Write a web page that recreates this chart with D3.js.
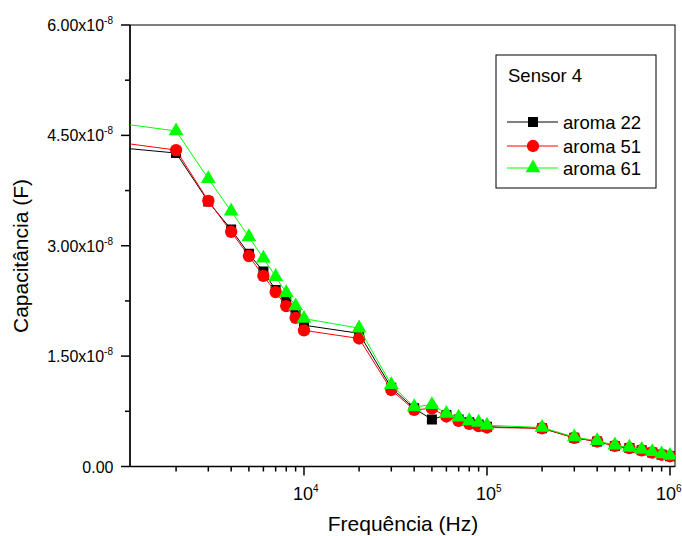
<!DOCTYPE html>
<html>
<head>
<meta charset="utf-8">
<script src="https://cdn.jsdelivr.net/npm/d3@7"></script>
<style>
  body { margin: 0; background: #fff; }
  text { font-family: "Liberation Sans", Arial, sans-serif; fill: #000; }
</style>
</head>
<body>
<div id="chart"></div>
<script>
// frequências (Hz)
let freq = [1e3, 2e3, 3e3, 4e3, 5e3, 6e3, 7e3, 8e3, 9e3, 1e4,
            2e4, 3e4, 4e4, 5e4, 6e4, 7e4, 8e4, 9e4, 1e5,
            2e5, 3e5, 4e5, 5e5, 6e5, 7e5, 8e5, 9e5, 1e6];
// capacitância em unidades de 1e-8 F
let aroma22 = [4.33, 4.26, 3.60, 3.22, 2.89, 2.65, 2.40, 2.25, 2.07, 1.92,
               1.81, 1.07, 0.79, 0.64, 0.70, 0.64, 0.60, 0.57, 0.54,
               0.52, 0.39, 0.34, 0.28, 0.25, 0.22, 0.19, 0.16, 0.14];
let aroma51 = [4.40, 4.30, 3.61, 3.19, 2.86, 2.59, 2.37, 2.18, 2.02, 1.85,
               1.74, 1.04, 0.77, 0.79, 0.68, 0.62, 0.58, 0.55, 0.53,
               0.52, 0.39, 0.34, 0.28, 0.25, 0.22, 0.19, 0.16, 0.14];
let aroma61 = [4.66, 4.56, 3.91, 3.47, 3.12, 2.83, 2.58, 2.36, 2.18, 2.01,
               1.88, 1.11, 0.81, 0.84, 0.72, 0.67, 0.62, 0.60, 0.56,
               0.53, 0.40, 0.35, 0.29, 0.26, 0.23, 0.20, 0.17, 0.15];
let yTicks = [0, 1.5, 3.0, 4.5, 6.0];
let yTickLabels = ["0.00", "1.50x10", "3.00x10", "4.50x10", "6.00x10"];
let xTicks = [1e4, 1e5, 1e6];
let xTickExp = ["4", "5", "6"];

let series = [
  {name: "aroma 22", values: aroma22, color: "#000000", symbol: d3.symbolSquare, size: 100},
  {name: "aroma 51", values: aroma51, color: "#ff0000", symbol: d3.symbolCircle, size: 120},
  {name: "aroma 61", values: aroma61, color: "#00ff00", symbol: d3.symbolTriangle, size: 95}
];

let width = 682, height = 536;
let mLeft = 130, mRight = 675, mTop = 25, mBottom = 466.5;

let X = d3.scaleLog().domain([1120, 1.065e6]).range([mLeft, mRight]);
let Y = d3.scaleLinear().domain([0, 6]).range([mBottom, mTop]);

let svg = d3.select("#chart").append("svg")
  .attr("width", width)
  .attr("height", height);

svg.append("clipPath").attr("id", "clip")
  .append("rect")
  .attr("x", mLeft).attr("y", mTop)
  .attr("width", mRight - mLeft).attr("height", mBottom - mTop);

// moldura
svg.append("rect")
  .attr("x", mLeft).attr("y", mTop)
  .attr("width", mRight - mLeft).attr("height", mBottom - mTop)
  .attr("fill", "none").attr("stroke", "#000").attr("stroke-width", 1);

// eixo Y
let yMinor = d3.range(0.75, 6, 1.5);
svg.selectAll(".ymaj").data(yTicks).join("line")
  .attr("x1", mLeft - 9).attr("x2", mLeft)
  .attr("y1", d => Y(d)).attr("y2", d => Y(d))
  .attr("stroke", "#000").attr("stroke-width", 1.5);
svg.selectAll(".ymin").data(yMinor).join("line")
  .attr("x1", mLeft - 5).attr("x2", mLeft)
  .attr("y1", d => Y(d)).attr("y2", d => Y(d))
  .attr("stroke", "#000").attr("stroke-width", 1.5);
svg.append("line")
  .attr("x1", mLeft).attr("x2", mLeft).attr("y1", mTop).attr("y2", mBottom)
  .attr("stroke", "#000").attr("stroke-width", 1.5);

let ylab = svg.selectAll(".ylab").data(yTicks).join("text")
  .attr("class", "ylab")
  .attr("x", d => d > 0 ? mLeft - 17 : mLeft - 16.5)
  .attr("y", d => Y(d) + 6)
  .attr("text-anchor", "end")
  .style("font-size", "16px");
ylab.append("tspan").text((d, i) => yTickLabels[i]);
ylab.filter(d => d > 0).append("tspan")
  .attr("dy", -7).style("font-size", "10px").text("-8");

// eixo X
let xMinor = [];
for (let e = 3; e < 6; e++) {
  for (let m = 2; m <= 9; m++) xMinor.push(m * Math.pow(10, e));
}
xMinor = xMinor.filter(d => X(d) > mLeft);
svg.selectAll(".xmaj").data(xTicks).join("line")
  .attr("x1", d => X(d)).attr("x2", d => X(d))
  .attr("y1", mBottom).attr("y2", mBottom + 9)
  .attr("stroke", "#000").attr("stroke-width", 1.5);
svg.selectAll(".xmin").data(xMinor).join("line")
  .attr("x1", d => X(d)).attr("x2", d => X(d))
  .attr("y1", mBottom).attr("y2", mBottom + 5)
  .attr("stroke", "#000").attr("stroke-width", 1.5);
svg.append("line")
  .attr("x1", mLeft).attr("x2", mRight).attr("y1", mBottom).attr("y2", mBottom)
  .attr("stroke", "#000").attr("stroke-width", 1.5);

let xlab = svg.selectAll(".xlab").data(xTicks).join("text")
  .attr("class", "xlab")
  .attr("x", d => Math.min(X(d) - 11, width - 26))
  .attr("y", 500)
  .style("font-size", "18px");
xlab.append("tspan").text("10");
xlab.append("tspan").attr("dy", -8).style("font-size", "10px").text((d, i) => xTickExp[i]);

// títulos dos eixos
svg.append("text")
  .attr("x", 403).attr("y", 531)
  .attr("text-anchor", "middle")
  .style("font-size", "21px")
  .text("Frequência (Hz)");
svg.append("text")
  .attr("transform", "translate(27.5,256) rotate(-90)")
  .attr("text-anchor", "middle")
  .style("font-size", "21px")
  .text("Capacitância (F)");

// dados
let plot = svg.append("g").attr("clip-path", "url(#clip)");
let line = d3.line().x((d, i) => X(freq[i])).y(d => Y(d));

series.forEach(s => {
  plot.append("path")
    .datum(s.values)
    .attr("d", line)
    .attr("fill", "none")
    .attr("stroke", s.color)
    .attr("stroke-width", 1);
  plot.selectAll(null).data(s.values).join("path")
    .attr("transform", (d, i) => "translate(" + X(freq[i]) + "," + Y(d) + ")")
    .attr("d", d3.symbol().type(s.symbol).size(s.size))
    .attr("fill", s.color);
});

// legenda
let lg = svg.append("g");
lg.append("rect")
  .attr("x", 496).attr("y", 55).attr("width", 160).attr("height", 133)
  .attr("fill", "#fff").attr("stroke", "#000").attr("stroke-width", 1);
lg.append("text").attr("x", 508).attr("y", 82)
  .style("font-size", "18.5px").text("Sensor 4");
let ly = [122, 146, 168];
series.forEach((s, i) => {
  lg.append("line")
    .attr("x1", 507).attr("x2", 558)
    .attr("y1", ly[i]).attr("y2", ly[i])
    .attr("stroke", s.color).attr("stroke-width", 1);
  lg.append("path")
    .attr("transform", "translate(533," + ly[i] + ")")
    .attr("d", d3.symbol().type(s.symbol).size(s.size))
    .attr("fill", s.color);
  lg.append("text").attr("x", 563).attr("y", ly[i] + 6.5)
    .style("font-size", "18.5px").text(s.name);
});
</script>
</body>
</html>
